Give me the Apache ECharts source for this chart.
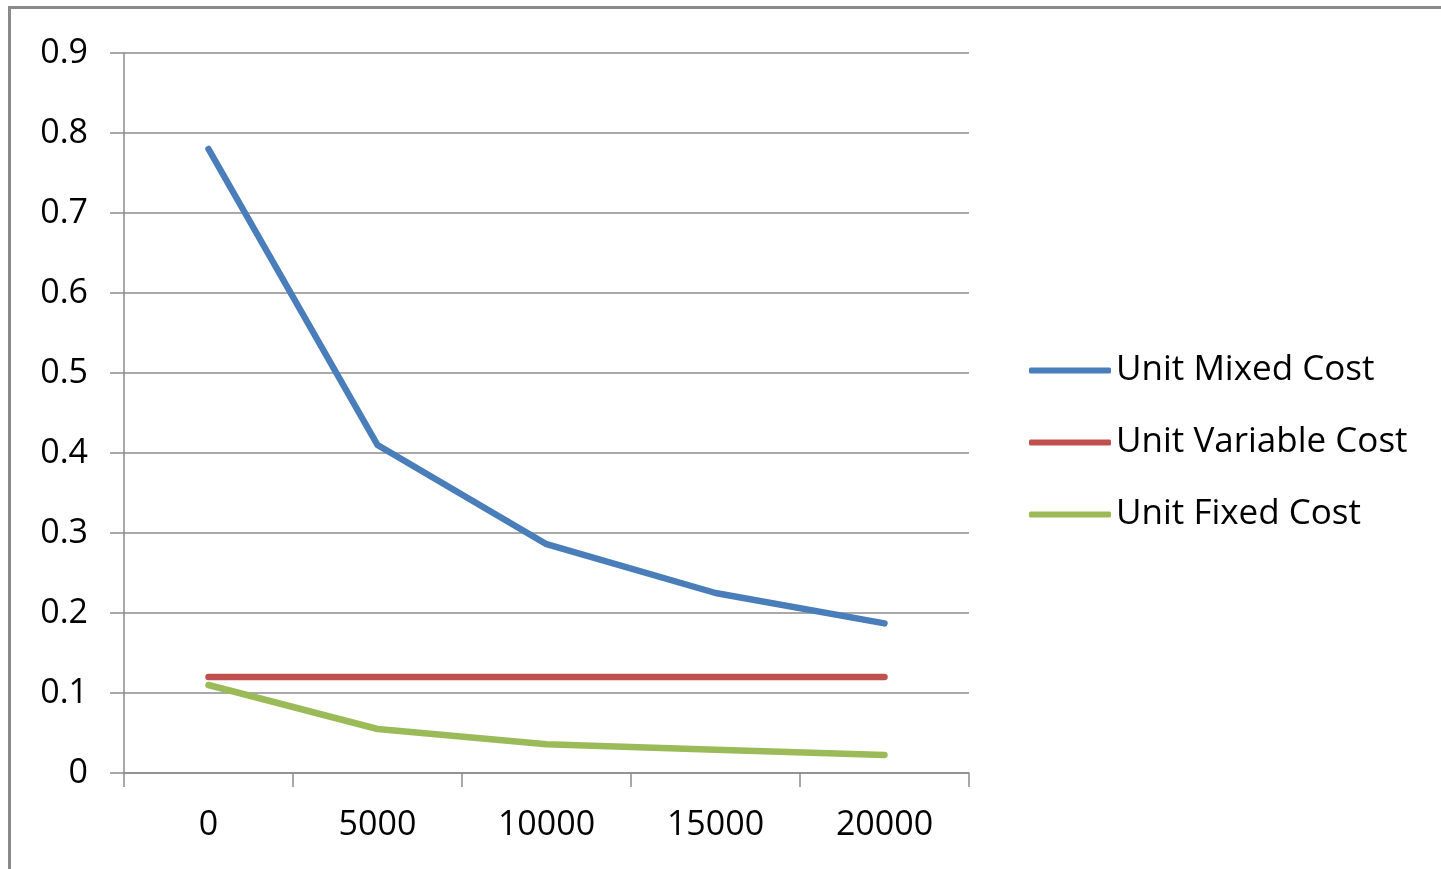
<!DOCTYPE html>
<html>
<head>
<meta charset="utf-8">
<script src="https://cdn.jsdelivr.net/npm/echarts@6/dist/echarts.min.js"></script>
<style>
html,body{margin:0;padding:0;background:#fff;}
#chart{width:1441px;height:869px;}
</style>
</head>
<body>
<div id="chart"></div>
<script>
const categories = ['0', '5000', '10000', '15000', '20000'];
const unitMixedCost = [0.78, 0.41, 0.286, 0.225, 0.187];
const unitVariableCost = [0.12, 0.12, 0.12, 0.12, 0.12];
const unitFixedCost = [0.11, 0.055, 0.036, 0.029, 0.0225];
const seriesNames = ['Unit Mixed Cost', 'Unit Variable Cost', 'Unit Fixed Cost'];
const yTicks = { min: 0, max: 0.9, interval: 0.1 };

const FONT = '"Open Sans", sans-serif';
const chart = echarts.init(document.getElementById('chart'));
const mk = (name, data, color) => ({
  name, type: 'line', data, symbol: 'none', smooth: false,
  lineStyle: { color, width: 6.5, cap: 'round', join: 'round' },
  itemStyle: { color },
  animation: false
});
chart.setOption({
  animation: false,
  backgroundColor: '#fff',
  graphic: [
    { type: 'rect', shape: { x: 8, y: 6, width: 3, height: 900 }, style: { fill: '#8a8a8a' } },
    { type: 'rect', shape: { x: 8, y: 6, width: 1500, height: 3 }, style: { fill: '#8a8a8a' } }
  ],
  grid: { left: 124, right: 472, top: 53, bottom: 96, containLabel: false },
  legend: {
    orient: 'vertical', left: 1024, top: 348,
    itemWidth: 82, itemHeight: 6, itemGap: 37,
    icon: 'roundRect',
    textStyle: { fontFamily: FONT, fontSize: 35, color: '#000', padding: [0, 0, 0, 0] },
    data: seriesNames
  },
  xAxis: {
    type: 'category', data: categories, boundaryGap: true,
    axisLine: { lineStyle: { color: '#8c8c8c', width: 1.5 } },
    axisTick: { show: true, length: 14, alignWithLabel: false, lineStyle: { color: '#8c8c8c', width: 1.5 } },
    axisLabel: { fontFamily: FONT, fontSize: 34, color: '#000', margin: 35, lineHeight: 34 },
    splitLine: { show: false }
  },
  yAxis: {
    type: 'value', min: yTicks.min, max: yTicks.max, interval: yTicks.interval,
    axisLine: { show: true, lineStyle: { color: '#8c8c8c', width: 1.5 } },
    axisTick: { show: true, length: 14, lineStyle: { color: '#8c8c8c', width: 1.5 } },
    axisLabel: { fontFamily: FONT, fontSize: 34, color: '#000', margin: 36, formatter: v => String(+v.toFixed(1)) },
    splitLine: { show: true, lineStyle: { color: '#8c8c8c', width: 1.5 } }
  },
  series: [
    mk(seriesNames[0], unitMixedCost, '#4a7ebb'),
    mk(seriesNames[1], unitVariableCost, '#c0504d'),
    mk(seriesNames[2], unitFixedCost, '#9bbb59')
  ]
});
</script>
</body>
</html>
